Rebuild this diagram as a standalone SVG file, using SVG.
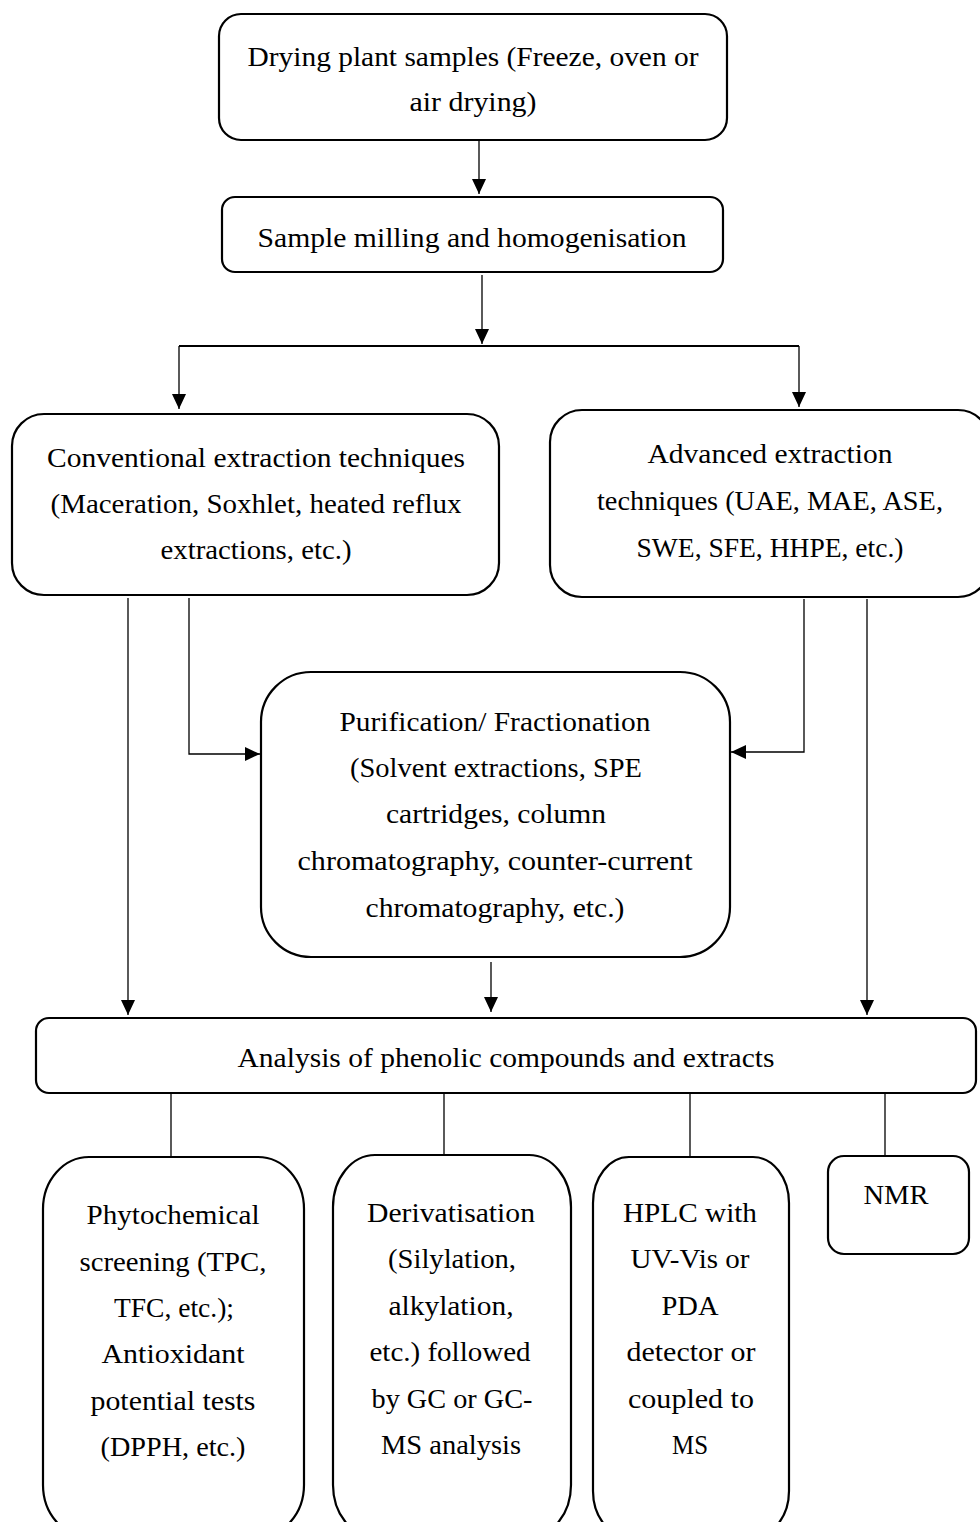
<svg xmlns="http://www.w3.org/2000/svg" width="980" height="1522" viewBox="0 0 980 1522">
<style>
.box{fill:#fff;stroke:#000;stroke-width:2.2}
.t{font-family:"Liberation Serif","Times New Roman",serif;font-size:27px;fill:#000;text-anchor:middle}
.c{fill:none;stroke:#000;stroke-width:1.3}
.c2{fill:none;stroke:#000;stroke-width:2}
</style>
<defs>
<marker id="ah" markerUnits="userSpaceOnUse" markerWidth="15" markerHeight="15" viewBox="0 0 15 15" refX="15" refY="7.5" orient="auto">
<path d="M0,0.5 L15,7.5 L0,14.5 Z" fill="#000"/>
</marker>
</defs>
<rect width="980" height="1522" fill="#fff"/>
<g id="connectors">
<path class="c" d="M479,141 V194" marker-end="url(#ah)"/>
<path class="c" d="M482,275 V344" marker-end="url(#ah)"/>
<path class="c2" d="M179,346 H799"/>
<path class="c" d="M179,346 V409" marker-end="url(#ah)"/>
<path class="c" d="M799,346 V407" marker-end="url(#ah)"/>
<path class="c" d="M128,598 V1015" marker-end="url(#ah)"/>
<path class="c" d="M189,598 V754 H260" marker-end="url(#ah)"/>
<path class="c" d="M804,599 V752 H731" marker-end="url(#ah)"/>
<path class="c" d="M867,599 V1015" marker-end="url(#ah)"/>
<path class="c" d="M491,962 V1012" marker-end="url(#ah)"/>
<path class="c" d="M171,1094 V1157"/>
<path class="c" d="M444,1094 V1155"/>
<path class="c" d="M690,1094 V1157"/>
<path class="c" d="M885,1094 V1156"/>
</g>
<g id="n1">
<rect class="box" x="219" y="14" width="508" height="126" rx="22"/>
<text class="t" x="473" y="66" textLength="451" lengthAdjust="spacingAndGlyphs">Drying plant samples (Freeze, oven or</text>
<text class="t" x="473" y="111" textLength="127" lengthAdjust="spacingAndGlyphs">air drying)</text>
</g>
<g id="n2">
<rect class="box" x="222" y="197" width="501" height="75" rx="13"/>
<text class="t" x="472" y="247" textLength="429" lengthAdjust="spacingAndGlyphs">Sample milling and homogenisation</text>
</g>
<g id="n3">
<rect class="box" x="12" y="414" width="487" height="181" rx="32"/>
<text class="t" x="256" y="467" textLength="418" lengthAdjust="spacingAndGlyphs">Conventional extraction techniques</text>
<text class="t" x="256" y="513" textLength="411" lengthAdjust="spacingAndGlyphs">(Maceration, Soxhlet, heated reflux</text>
<text class="t" x="256" y="559" textLength="191" lengthAdjust="spacingAndGlyphs">extractions, etc.)</text>
</g>
<g id="n4">
<rect class="box" x="550" y="410" width="440" height="187" rx="32"/>
<text class="t" x="770" y="463" textLength="245" lengthAdjust="spacingAndGlyphs">Advanced extraction</text>
<text class="t" x="770" y="510" textLength="346" lengthAdjust="spacingAndGlyphs">techniques (UAE, MAE, ASE,</text>
<text class="t" x="770" y="557" textLength="267" lengthAdjust="spacingAndGlyphs">SWE, SFE, HHPE, etc.)</text>
</g>
<g id="n5">
<rect class="box" x="261" y="672" width="469" height="285" rx="50"/>
<text class="t" x="495" y="731" textLength="311" lengthAdjust="spacingAndGlyphs">Purification/ Fractionation</text>
<text class="t" x="496" y="777" textLength="292" lengthAdjust="spacingAndGlyphs">(Solvent extractions, SPE</text>
<text class="t" x="496" y="823" textLength="220" lengthAdjust="spacingAndGlyphs">cartridges, column</text>
<text class="t" x="495" y="870" textLength="395" lengthAdjust="spacingAndGlyphs">chromatography, counter-current</text>
<text class="t" x="495" y="917" textLength="259" lengthAdjust="spacingAndGlyphs">chromatography, etc.)</text>
</g>
<g id="n6">
<rect class="box" x="36" y="1018" width="940" height="75" rx="13"/>
<text class="t" x="506" y="1067" textLength="537" lengthAdjust="spacingAndGlyphs">Analysis of phenolic compounds and extracts</text>
</g>
<g id="n7">
<rect class="box" x="43" y="1157" width="261" height="380" rx="46" ry="52"/>
<text class="t" x="173" y="1224" textLength="173" lengthAdjust="spacingAndGlyphs">Phytochemical</text>
<text class="t" x="173" y="1271" textLength="187" lengthAdjust="spacingAndGlyphs">screening (TPC,</text>
<text class="t" x="174" y="1317" textLength="120" lengthAdjust="spacingAndGlyphs">TFC, etc.);</text>
<text class="t" x="173" y="1363" textLength="143" lengthAdjust="spacingAndGlyphs">Antioxidant</text>
<text class="t" x="173" y="1410" textLength="165" lengthAdjust="spacingAndGlyphs">potential tests</text>
<text class="t" x="173" y="1456" textLength="145" lengthAdjust="spacingAndGlyphs">(DPPH, etc.)</text>
</g>
<g id="n8">
<rect class="box" x="333" y="1155" width="238" height="382" rx="42" ry="52"/>
<text class="t" x="451" y="1222" textLength="168" lengthAdjust="spacingAndGlyphs">Derivatisation</text>
<text class="t" x="452" y="1268" textLength="128" lengthAdjust="spacingAndGlyphs">(Silylation,</text>
<text class="t" x="451" y="1315" textLength="125" lengthAdjust="spacingAndGlyphs">alkylation,</text>
<text class="t" x="450" y="1361" textLength="161" lengthAdjust="spacingAndGlyphs">etc.) followed</text>
<text class="t" x="452" y="1408" textLength="161" lengthAdjust="spacingAndGlyphs">by GC or GC-</text>
<text class="t" x="451" y="1454" textLength="140" lengthAdjust="spacingAndGlyphs">MS analysis</text>
</g>
<g id="n9">
<rect class="box" x="593" y="1157" width="196" height="380" rx="36" ry="46"/>
<text class="t" x="690" y="1222" textLength="134" lengthAdjust="spacingAndGlyphs">HPLC with</text>
<text class="t" x="690" y="1268" textLength="119" lengthAdjust="spacingAndGlyphs">UV-Vis or</text>
<text class="t" x="690" y="1315" textLength="57" lengthAdjust="spacingAndGlyphs">PDA</text>
<text class="t" x="691" y="1361" textLength="129" lengthAdjust="spacingAndGlyphs">detector or</text>
<text class="t" x="691" y="1408" textLength="126" lengthAdjust="spacingAndGlyphs">coupled to</text>
<text class="t" x="690" y="1454" textLength="36" lengthAdjust="spacingAndGlyphs">MS</text>
</g>
<g id="n10">
<rect class="box" x="828" y="1156" width="141" height="98" rx="16"/>
<text class="t" x="896" y="1204" textLength="65" lengthAdjust="spacingAndGlyphs">NMR</text>
</g>
</svg>
